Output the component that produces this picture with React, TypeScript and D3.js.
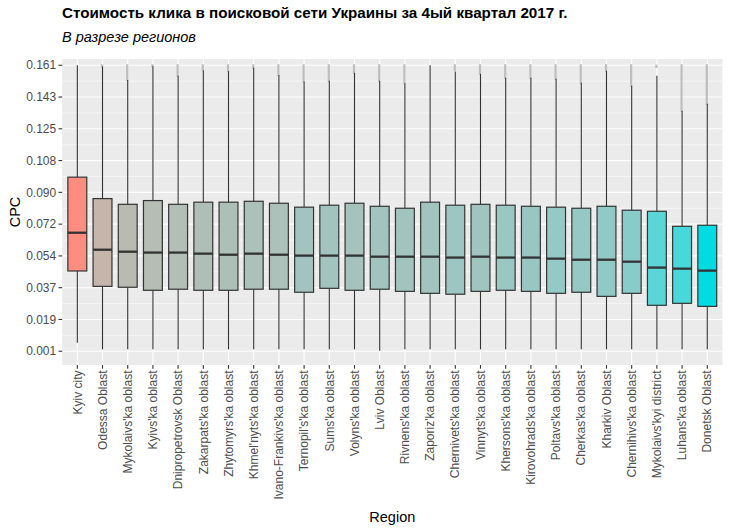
import React from "react";
import * as d3 from "d3";

const regions = [
  "Kyiv city", "Odessa Oblast", "Mykolaivs'ka oblast", "Kyivs'ka oblast", "Dnipropetrovsk Oblast",
  "Zakarpats'ka oblast", "Zhytomyrs'ka oblast", "Khmel'nyts'ka oblast", "Ivano-Frankivs'ka oblast",
  "Ternopil's'ka oblast", "Sums'ka oblast", "Volyns'ka oblast", "Lviv Oblast", "Rivnens'ka oblast",
  "Zaporiz'ka oblast", "Chernivets'ka oblast", "Vinnyts'ka oblast", "Khersons'ka oblast",
  "Kirovohrads'ka oblast", "Poltavs'ka oblast", "Cherkas'ka oblast", "Kharkiv Oblast",
  "Chernihivs'ka oblast", "Mykolaivs'kyi district", "Luhans'ka oblast", "Donetsk Oblast",
];

const whiskerLow = [
  0.0058, 0.0021, 0.0021, 0.0021, 0.0021, 0.0021, 0.0021, 0.0021, 0.0021, 0.0021, 0.0021, 0.0021, 0.0013,
  0.0021, 0.0021, 0.0021, 0.0021, 0.0021, 0.0021, 0.0021, 0.0021, 0.0021, 0.0021, 0.0021, 0.0021, 0.0021,
];
const q1 = [
  0.0459, 0.0373, 0.0368, 0.0351, 0.0357, 0.0351, 0.0351, 0.0357, 0.0357, 0.0340, 0.0362, 0.0351, 0.0357,
  0.0345, 0.0334, 0.0329, 0.0345, 0.0351, 0.0345, 0.0334, 0.0340, 0.0317, 0.0334, 0.0267, 0.0278, 0.0261,
];
const medians = [
  0.0673, 0.0578, 0.0567, 0.0562, 0.0562, 0.0556, 0.0550, 0.0556, 0.0550, 0.0545, 0.0545, 0.0545, 0.0539,
  0.0539, 0.0539, 0.0534, 0.0539, 0.0534, 0.0534, 0.0528, 0.0522, 0.0522, 0.0511, 0.0478, 0.0472, 0.0461,
];
const q3 = [
  0.0984, 0.0864, 0.0832, 0.0853, 0.0832, 0.0844, 0.0844, 0.0849, 0.0838, 0.0816, 0.0827, 0.0838, 0.0821,
  0.0810, 0.0844, 0.0827, 0.0832, 0.0827, 0.0821, 0.0816, 0.0810, 0.0821, 0.0799, 0.0793, 0.0709, 0.0715,
];
const whiskerHigh = [
  0.1610, 0.1603, 0.1528, 0.1605, 0.1551, 0.1581, 0.1577, 0.1596, 0.1556, 0.1519, 0.1523, 0.1568, 0.1523,
  0.1510, 0.1610, 0.1575, 0.1562, 0.1540, 0.1540, 0.1534, 0.1512, 0.1579, 0.1495, 0.1551, 0.1355, 0.1394,
];
// ranges covered by the (dense, semi-transparent) outlier points
const outlierRanges: [number, number][][] = [
  [], [[0.1603, 0.161]], [[0.1528, 0.161]], [[0.1605, 0.161]], [[0.1551, 0.161]],
  [[0.1581, 0.161]], [[0.1577, 0.161]], [[0.1596, 0.161]], [[0.1556, 0.161]],
  [[0.1519, 0.161]], [[0.1523, 0.161]], [[0.1568, 0.161]], [[0.1523, 0.161]], [[0.1510, 0.161]],
  [], [[0.1584, 0.161]], [[0.1596, 0.161], [0.1562, 0.1590]], [[0.1540, 0.161]],
  [[0.1540, 0.161]], [[0.1534, 0.161]], [[0.1512, 0.161]], [[0.1579, 0.161]],
  [[0.1495, 0.161]], [[0.1600, 0.1608]], [[0.1540, 0.161], [0.1355, 0.1534]],
  [[0.1469, 0.161], [0.1394, 0.1463]],
];
// fill variable (mean CPC per region)
const meanCpc = [
  0.0720, 0.0622, 0.0605, 0.0601, 0.0597, 0.0593, 0.0591, 0.0589, 0.0588, 0.0579, 0.0579, 0.0582, 0.0578,
  0.0578, 0.0578, 0.0572, 0.0576, 0.0570, 0.0568, 0.0564, 0.0564, 0.0560, 0.0553, 0.0522, 0.0514, 0.0500,
];

const yBreaks = [0.001, 0.01878, 0.03656, 0.05433, 0.07211, 0.08989, 0.10767, 0.12544, 0.14322, 0.161];

const title = "Стоимость клика в поисковой сети Украины за 4ый квартал 2017 г.";
const subtitle = "В разрезе регионов";
const xTitle = "Region";
const yTitle = "CPC";

const W = 729;
const H = 532;
const panel = { left: 62.2, right: 722.4, top: 59, bottom: 365 };
const FONT = "'Liberation Sans', Arial, Helvetica, sans-serif";

export default function App() {
  const x = d3.scalePoint<string>().domain(regions).range([panel.left, panel.right]).padding(0.6);
  const y = d3.scaleLinear().domain([-0.0067, 0.1645]).range([panel.bottom, panel.top]);
  const fill = d3
    .scaleLinear<string>()
    .domain([d3.min(meanCpc)!, d3.max(meanCpc)!])
    .range(["#00DCE2", "#FF8C80"])
    .interpolate(d3.interpolateLab);
  const step = x.step();
  const bw = step * 0.75;
  const minorBreaks = yBreaks.slice(1).map((b, i) => (b + yBreaks[i]) / 2);

  return (
    <svg
      width={W}
      height={H}
      style={{ position: "absolute", left: 0, top: 0, display: "block", background: "#fff" }}
      fontFamily={FONT}
    >
      <rect x={0} y={0} width={W} height={H} fill="#fff" />
      <text x={62} y={18} fontSize={15.2} fontWeight="bold" fill="#000">{title}</text>
      <text x={62} y={42} fontSize={14.5} fontStyle="italic" fill="#000">{subtitle}</text>

      <rect
        x={panel.left}
        y={panel.top}
        width={panel.right - panel.left}
        height={panel.bottom - panel.top}
        fill="#EBEBEB"
      />
      {minorBreaks.map((b, i) => (
        <line key={"mn" + i} x1={panel.left} x2={panel.right} y1={y(b)} y2={y(b)} stroke="#fff" strokeWidth={0.55} />
      ))}
      {yBreaks.map((b, i) => (
        <line key={"mj" + i} x1={panel.left} x2={panel.right} y1={y(b)} y2={y(b)} stroke="#fff" strokeWidth={1.1} />
      ))}
      {regions.map((r) => (
        <line key={"vx" + r} x1={x(r)} x2={x(r)} y1={panel.top} y2={panel.bottom} stroke="#fff" strokeWidth={1.1} />
      ))}

      {regions.map((r, i) => {
        const cx = x(r)!;
        return (
          <g key={"b" + r}>
            {outlierRanges[i].map(([lo, hi], k) => (
              <rect
                key={k}
                x={cx - 1.6}
                y={y(hi) - 1}
                width={2.2}
                height={y(lo) - y(hi) + 2}
                fill="#BDBDBD"
              />
            ))}
            <line x1={cx} x2={cx} y1={y(whiskerHigh[i])} y2={y(q3[i])} stroke="#333333" strokeWidth={1.1} />
            <line x1={cx} x2={cx} y1={y(q1[i])} y2={y(whiskerLow[i])} stroke="#333333" strokeWidth={1.1} />
            <rect
              x={cx - bw / 2}
              y={y(q3[i])}
              width={bw}
              height={y(q1[i]) - y(q3[i])}
              fill={fill(meanCpc[i])}
              stroke="#333333"
              strokeWidth={1.2}
            />
            <line
              x1={cx - bw / 2}
              x2={cx + bw / 2}
              y1={y(medians[i])}
              y2={y(medians[i])}
              stroke="#333333"
              strokeWidth={2.3}
            />
          </g>
        );
      })}

      {yBreaks.map((b, i) => (
        <g key={"yt" + i}>
          <line x1={panel.left - 3.7} x2={panel.left} y1={y(b)} y2={y(b)} stroke="#333333" strokeWidth={1.1} />
          <text
            x={panel.left - 6}
            y={y(b)}
            dy="0.35em"
            textAnchor="end"
            fontSize={12}
            fill="#4D4D4D"
          >
            {b.toFixed(3)}
          </text>
        </g>
      ))}
      {regions.map((r) => (
        <g key={"xt" + r}>
          <line x1={x(r)} x2={x(r)} y1={panel.bottom} y2={panel.bottom + 3.7} stroke="#333333" strokeWidth={1.1} />
          <text
            transform={`translate(${x(r)},${panel.bottom + 5.5}) rotate(-90)`}
            dy="0.35em"
            textAnchor="end"
            fontSize={12}
            fill="#4D4D4D"
          >
            {r}
          </text>
        </g>
      ))}

      <text x={(panel.left + panel.right) / 2} y={522} textAnchor="middle" fontSize={14.5} fill="#000">
        {xTitle}
      </text>
      <text
        transform={`translate(20,${(panel.top + panel.bottom) / 2}) rotate(-90)`}
        textAnchor="middle"
        fontSize={14.5}
        fill="#000"
      >
        {yTitle}
      </text>
    </svg>
  );
}
